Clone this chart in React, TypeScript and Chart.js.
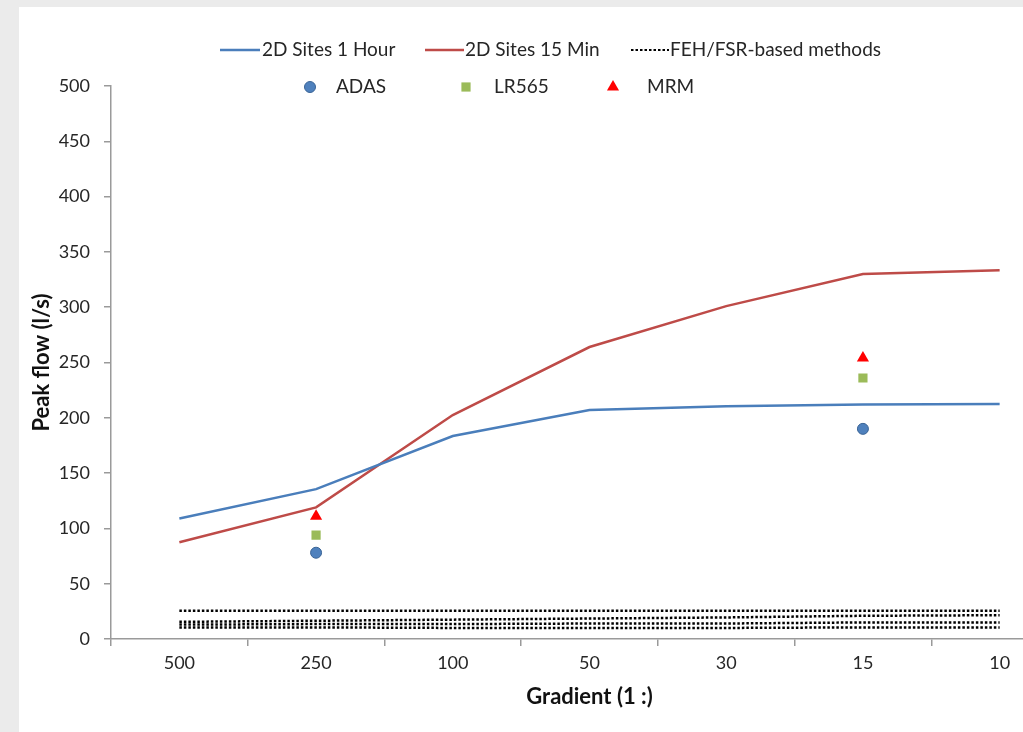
import { useEffect, useRef } from "react";
import { Chart, registerables } from "chart.js";

Chart.register(...registerables);

// ---- data ----
const gradients = ["500", "250", "100", "50", "30", "15", "10"];
const sites1Hour = [109, 135.5, 183.5, 207, 210.5, 212, 212.5];
const sites15Min = [87.5, 119, 202.5, 264, 301, 330, 333.5];
const fehA = [25.5, 25.5, 25.5, 25.5, 25.5, 25.5, 25.5];
const fehB = [15.5, 16.5, 17.5, 18.5, 19.5, 21, 21.5];
const fehC = [13, 13.5, 13.5, 14, 14, 15, 15];
const fehD = [10.5, 10.5, 10, 10, 10, 10.5, 10.5];
const adas = [null, 78, null, null, null, 190, null];
const lr565 = [null, 94, null, null, null, 236, null];
const mrm = [null, 111, null, null, null, 254, null];
const yTicksMax = 500;
const yStep = 50;

// ---- styles ----
const FONT = "Lato";
const TEXT = "#262626";
const AXIS = "#9a9a9a";
const BLUE = "#4a7ebb";
const RED = "#be4b48";
const GREEN = "#9bbb59";
const TRI = "#ff0000";
const DOT = "#000000";

const CW = 1060;
const CH = 725;

const dotted = (data: number[], label: string) => ({
  type: "line" as const,
  label,
  data,
  borderColor: DOT,
  borderWidth: 2.5,
  borderDash: [2.5, 2],
  pointRadius: 0,
  fill: false,
  tension: 0,
});

const legendLayout = [
  { ds: 0, kind: "line", x: 201, w: 40, tx: 243, y: 43 },
  { ds: 1, kind: "line", x: 406, w: 39, tx: 446, y: 43 },
  { ds: 2, kind: "line", x: 612, w: 38, tx: 651, y: 43 },
  { ds: 6, kind: "circle", x: 291, tx: 317, y: 80 },
  { ds: 7, kind: "rect", x: 447, tx: 475, y: 80 },
  { ds: 8, kind: "triangle", x: 594, tx: 628, y: 80 },
];

const legendPlugin = {
  id: "customLegend",
  afterDraw(chart: any) {
    const ctx = chart.ctx;
    ctx.save();
    ctx.font = `19px ${FONT}`;
    ctx.textBaseline = "middle";
    ctx.textAlign = "left";
    for (const it of legendLayout) {
      const ds = chart.data.datasets[it.ds];
      if (it.kind === "line") {
        ctx.save();
        ctx.strokeStyle = ds.borderColor;
        ctx.lineWidth = it.ds === 2 ? 2 : ds.borderWidth;
        ctx.setLineDash(ds.borderDash || []);
        ctx.beginPath();
        ctx.moveTo(it.x, it.y);
        ctx.lineTo(it.x + (it.w || 40), it.y);
        ctx.stroke();
        ctx.restore();
      } else {
        ctx.save();
        ctx.fillStyle = ds.pointBackgroundColor;
        ctx.strokeStyle = ds.pointBorderColor;
        ctx.lineWidth = ds.pointBorderWidth;
        const r = ds.pointRadius;
        ctx.beginPath();
        if (it.kind === "circle") {
          ctx.arc(it.x, it.y, r, 0, Math.PI * 2);
        } else if (it.kind === "rect") {
          const s = r * Math.SQRT1_2;
          ctx.rect(it.x - s, it.y - s, 2 * s, 2 * s);
        } else {
          for (let k = 0; k < 3; k++) {
            const a = -Math.PI / 2 + (k * 2 * Math.PI) / 3;
            const px = it.x + r * Math.cos(a);
            const py = it.y + r * Math.sin(a);
            if (k === 0) ctx.moveTo(px, py);
            else ctx.lineTo(px, py);
          }
          ctx.closePath();
        }
        ctx.fill();
        if (ds.pointBorderWidth > 0) ctx.stroke();
        ctx.restore();
      }
      ctx.fillStyle = TEXT;
      ctx.fillText(ds.label, it.tx, it.y);
    }
    ctx.restore();
  },
};

export default function App() {
  const ref = useRef<HTMLCanvasElement | null>(null);

  useEffect(() => {
    if (!ref.current) return;
    const chart = new Chart(ref.current, {
      type: "line",
      data: {
        labels: gradients,
        datasets: [
          {
            label: "2D Sites 1 Hour",
            data: sites1Hour,
            borderColor: BLUE,
            borderWidth: 2.5,
            pointRadius: 0,
            tension: 0,
            order: 2,
          },
          {
            label: "2D Sites 15 Min",
            data: sites15Min,
            borderColor: RED,
            borderWidth: 2.5,
            pointRadius: 0,
            tension: 0,
            order: 2,
          },
          dotted(fehA, "FEH/FSR-based methods"),
          dotted(fehB, "FEH/FSR-based methods B"),
          dotted(fehC, "FEH/FSR-based methods C"),
          dotted(fehD, "FEH/FSR-based methods D"),
          {
            label: "ADAS",
            data: adas,
            showLine: false,
            pointStyle: "circle",
            pointRadius: 5.5,
            pointBackgroundColor: "#4f81bd",
            pointBorderColor: "#3a6496",
            pointBorderWidth: 1,
            order: 1,
          },
          {
            label: "LR565",
            data: lr565,
            showLine: false,
            pointStyle: "rect",
            pointRadius: 6.5,
            pointBackgroundColor: GREEN,
            pointBorderColor: GREEN,
            pointBorderWidth: 0,
            order: 1,
          },
          {
            label: "MRM",
            data: mrm,
            showLine: false,
            pointStyle: "triangle",
            pointRadius: 7,
            pointBackgroundColor: TRI,
            pointBorderColor: TRI,
            pointBorderWidth: 0,
            order: 1,
          },
        ] as any,
      },
      options: {
        responsive: false,
        maintainAspectRatio: false,
        devicePixelRatio: 1,
        animation: false,
        events: [],
        layout: { padding: { left: 0, top: 79, right: CW - 1049, bottom: 0 } },
        plugins: {
          legend: { display: false },
          tooltip: { enabled: false },
          title: { display: false },
        },
        scales: {
          x: {
            type: "category",
            offset: true,
            grid: {
              offset: true,
              drawOnChartArea: false,
              drawTicks: true,
              tickLength: 7,
              color: AXIS,
              lineWidth: 1.5,
            },
            border: { display: true, color: AXIS, width: 1.5 },
            ticks: {
              color: TEXT,
              font: { family: FONT, size: 18 },
              padding: 6,
              maxRotation: 0,
              autoSkip: false,
            },
            title: {
              display: true,
              text: "Gradient (1 :)",
              color: "#111111",
              font: { family: FONT, size: 22, weight: "bold" },
              padding: { top: 0, bottom: 22 },
            },
            afterFit: (s: any) => {
              s.height = CH - 632;
            },
          },
          y: {
            min: 0,
            max: yTicksMax,
            ticks: {
              stepSize: yStep,
              color: TEXT,
              font: { family: FONT, size: 18 },
              padding: 14,
            },
            grid: {
              drawOnChartArea: false,
              drawTicks: true,
              tickLength: 7,
              color: AXIS,
              lineWidth: 1.5,
            },
            border: { display: true, color: AXIS, width: 1.5 },
            title: {
              display: true,
              text: "Peak flow (l/s)",
              color: "#111111",
              font: { family: FONT, size: 22, weight: "bold" },
              padding: { top: 10, bottom: 0 },
            },
            afterFit: (s: any) => {
              s.width = 92;
            },
          },
        },
      } as any,
      plugins: [legendPlugin],
    });
    return () => chart.destroy();
  }, []);

  return (
    <div
      style={{
        position: "fixed",
        left: 0,
        top: 0,
        width: 1023,
        height: 732,
        overflow: "hidden",
        background: "#ebebeb",
      }}
    >
      <div
        style={{
          position: "absolute",
          left: 19,
          top: 7,
          width: 1100,
          height: 800,
          background: "#ffffff",
        }}
      >
        <canvas
          ref={ref}
          width={CW}
          height={CH}
          style={{ display: "block", width: CW, height: CH }}
        />
      </div>
    </div>
  );
}
